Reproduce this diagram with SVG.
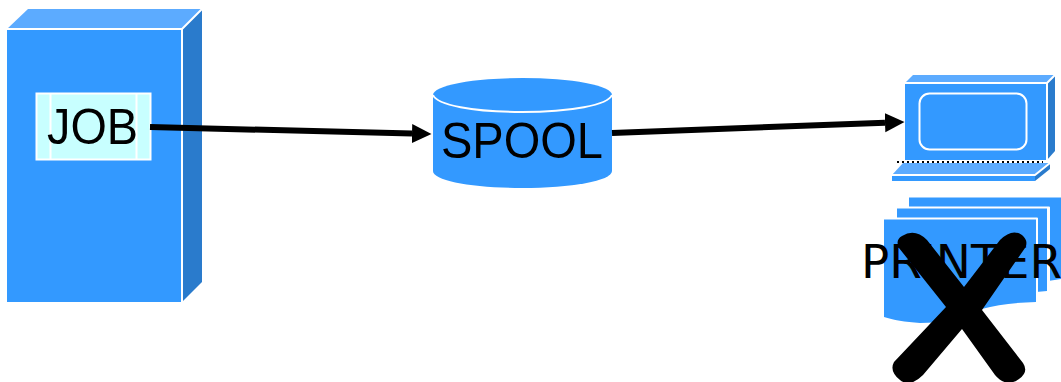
<svg xmlns="http://www.w3.org/2000/svg" width="1061" height="382" viewBox="0 0 1061 382">
<style>
.f{fill:#3399ff}.t{fill:#5cabff}.s{fill:#2a7bcc}
.w{stroke:#fff;stroke-width:2;stroke-linejoin:round;fill:none}
.lbl{font-family:"Liberation Sans",Arial,sans-serif;font-size:50px;fill:#000}
.con{stroke:#000;stroke-width:6;fill:none}
</style>
<defs>
<marker id="ah" markerUnits="userSpaceOnUse" markerWidth="20" markerHeight="20" refX="0" refY="10" orient="auto"><path d="M0,0.500 L19.500,10 L0,19.500 Z" fill="#000"/></marker>
</defs>
<rect width="1061" height="382" fill="#fff"/>
<g id="job">
<polygon class="t" points="7,29 28,9 202,9 182,29"/>
<polygon class="s" points="182,29 202,9 202,282 182,302"/>
<rect class="f" x="7" y="29" width="175" height="273"/>
<path class="w" d="M7,29 H182 V302 M182,29 L202,9"/>
<rect x="36.500" y="93.500" width="114" height="66" fill="#c8ffff" stroke="#fff" stroke-width="2"/>
<path class="w" d="M50.500,93 V160 M136.500,93 V160"/>
<text class="lbl" x="47" y="144" textLength="91" lengthAdjust="spacingAndGlyphs">JOB</text>
</g>
<g id="spool">
<path class="f" d="M433,95 V171 C433,181 473,188 522,188 C571,188 612,181 612,171 V95 Z"/>
<ellipse class="f" cx="522.500" cy="95" rx="89.500" ry="17"/>
<path class="w" d="M433,95 C437,105 473,112 522,112 C571,112 608,105 612,95"/>
<text class="lbl" x="441" y="158" textLength="162" lengthAdjust="spacingAndGlyphs">SPOOL</text>
</g>
<g id="terminal">
<polygon class="t" points="905,83 913,75 1055,75 1047,83"/>
<polygon class="s" points="1047,83 1055,75 1055,151 1047,160"/>
<rect class="f" x="905" y="83" width="142" height="77"/>
<path class="w" d="M905,83 H1047 V160 M1047,83 L1055,75"/>
<rect x="919.500" y="93.500" width="107" height="56" rx="10" fill="none" stroke="#fff" stroke-width="2"/>
<path d="M897,162 H1043" stroke="#000" stroke-width="2" stroke-dasharray="2 3" fill="none"/>
<polygon class="t" points="892,175 903,163 1050,163 1035,175"/>
<polygon class="s" points="1035,175 1050,163 1050,169 1035,181"/>
<rect class="f" x="892" y="175" width="143" height="6"/>
<path class="w" d="M892,175 H1035 L1050,163"/>
</g>
<g id="printer">
<path class="f" d="M909,197 H1061 V279 L1048,281 V208 H909 Z"/>
<path class="f" d="M897,208 H1047 V291 L1036,292 V219 H897 Z"/>
<path class="f" d="M884,219 H1036 V302 C1000,303 975,308 950,322 L920,323 C905,322 893,320 884,317 Z"/>
<path class="w" d="M897,207.500 H1049 V292 M909,196.500 H1061"/>
<path class="w" d="M884,218.500 H1037 V302"/>
<text x="861" y="278" font-family="'DejaVu Sans',Verdana,sans-serif" font-size="47" fill="#000">PRINTER</text>
<path fill="#000" d="M899,248 Q895,240 902,236 Q915,228 927,240 L964,287 L1000,240 Q1012,228 1022,235 Q1029,241 1025,248 L982,310 L1023,363 Q1029,372 1019,379 Q1006,388 995,375 L962,329 L923,375 Q910,388 900,380 Q889,371 894,362 L946,307 Z"/>
</g>
<g id="connectors">
<path class="con" d="M150,127 L412,133.500" marker-end="url(#ah)"/>
<path class="con" d="M612,133 L885,122.700" marker-end="url(#ah)"/>
</g>
</svg>
